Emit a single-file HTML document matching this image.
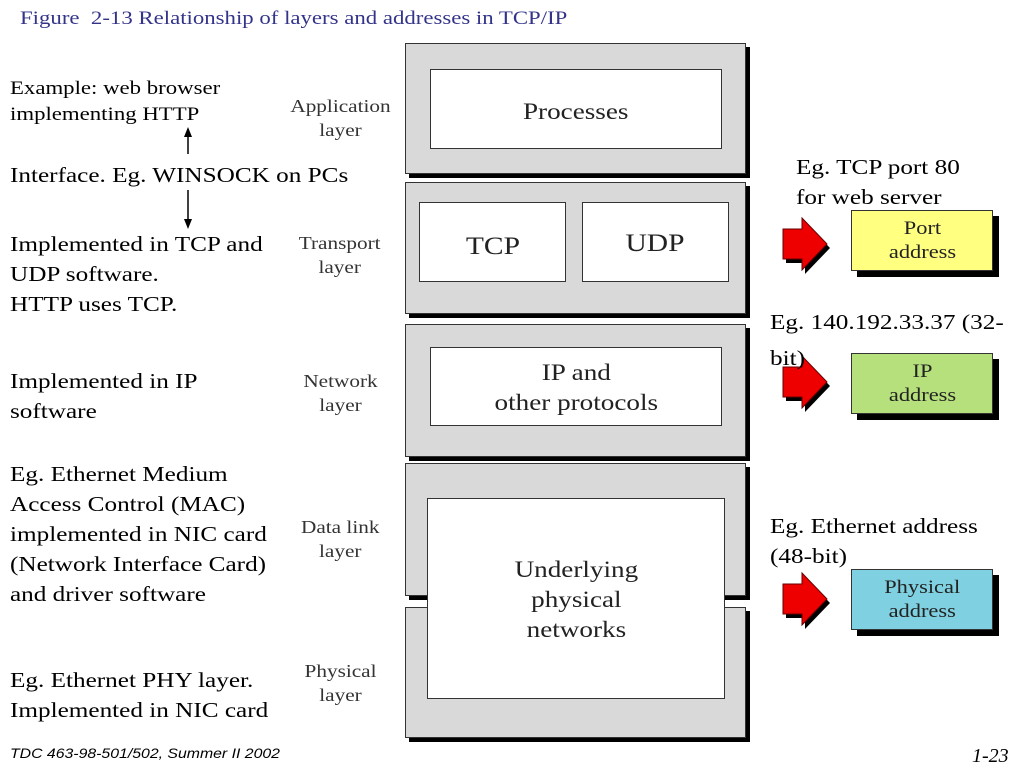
<!DOCTYPE html>
<html><head><style>
body{margin:0;width:1024px;height:768px;background:#fff;position:relative;overflow:hidden;font-family:"Liberation Serif",serif;}
div{position:absolute;box-sizing:border-box;}
.s{display:inline-block;transform:scaleX(1.2);transform-origin:left top;}
.c{display:inline-block;transform:scaleX(1.18);transform-origin:center top;}
.t{white-space:nowrap;color:#000;font-size:21px;line-height:30px;}
.lay{background:#d9d9d9;border:1.5px solid #333;box-shadow:4px 4px 0 #000;}
.in{background:#fff;border:1.5px solid #333;text-align:center;color:#222;font-size:23px;}
.ll{color:#333;font-size:18px;line-height:24px;text-align:center;white-space:nowrap;}
.ad{border:1.5px solid #333;box-shadow:6px 6px 0 #000;text-align:center;font-size:19px;line-height:24px;color:#222;padding-top:6px;}
</style></head><body>
<div class="t" style="left:20px;top:4px;font-size:19px;color:#33338a;"><span class="s">Figure&nbsp; 2-13 Relationship of layers and addresses in TCP/IP</span></div>

<div class="t" style="left:10px;top:76px;font-size:19px;line-height:26px;"><span class="s">Example: web browser<br>implementing HTTP</span></div>
<div class="t" style="left:10px;top:160px;"><span class="s">Interface. Eg. WINSOCK on PCs</span></div>
<div class="t" style="left:10px;top:229px;"><span class="s">Implemented in TCP and<br>UDP software.<br>HTTP uses TCP.</span></div>
<div class="t" style="left:10px;top:366px;"><span class="s">Implemented in IP<br>software</span></div>
<div class="t" style="left:10px;top:459px;"><span class="s">Eg. Ethernet Medium<br>Access Control (MAC)<br>implemented in NIC card<br>(Network Interface Card)<br>and driver software</span></div>
<div class="t" style="left:10px;top:665px;"><span class="s">Eg. Ethernet PHY layer.<br>Implemented in NIC card</span></div>
<div class="t" style="left:10px;top:738px;font-family:'Liberation Sans',sans-serif;font-style:italic;font-size:14px;"><span class="s" style="transform:scaleX(1.13)">TDC 463-98-501/502, Summer II 2002</span></div>
<div class="t" style="left:972px;top:741px;font-style:italic;font-size:20px;">1-23</div>

<svg style="position:absolute;left:0;top:0" width="1024" height="768">
<line x1="188" y1="130" x2="188" y2="154" stroke="#000" stroke-width="1.5"/>
<polygon points="188,127 184,137 192,137" fill="#000"/>
<line x1="188" y1="190" x2="188" y2="222" stroke="#000" stroke-width="1.5"/>
<polygon points="188,229 184,219 192,219" fill="#000"/>
<g>
<polygon points="783,229 802,229 802,218 827,244 802,270 802,259 783,259" fill="#000" transform="translate(3,4)"/>
<polygon points="783,229 802,229 802,218 827,244 802,270 802,259 783,259" fill="#e00" stroke="#600" stroke-width="1"/>
</g>
<g transform="translate(0,138)">
<polygon points="783,229 802,229 802,218 827,244 802,270 802,259 783,259" fill="#000" transform="translate(3,4)"/>
<polygon points="783,229 802,229 802,218 827,244 802,270 802,259 783,259" fill="#e00" stroke="#600" stroke-width="1"/>
</g>
<g transform="translate(0,355)">
<polygon points="783,229 802,229 802,218 827,244 802,270 802,259 783,259" fill="#000" transform="translate(3,4)"/>
<polygon points="783,229 802,229 802,218 827,244 802,270 802,259 783,259" fill="#e00" stroke="#600" stroke-width="1"/>
</g>
</svg>

<div class="ll" style="left:272px;top:94px;width:136px;"><span class="c">Application<br>layer</span></div>
<div class="ll" style="left:272px;top:231px;width:136px;"><span class="c">Transport<br>layer</span></div>
<div class="ll" style="left:272px;top:369px;width:136px;"><span class="c">Network<br>layer</span></div>
<div class="ll" style="left:272px;top:515px;width:136px;"><span class="c">Data link<br>layer</span></div>
<div class="ll" style="left:272px;top:659px;width:136px;"><span class="c">Physical<br>layer</span></div>

<div class="lay" style="left:405px;top:43px;width:341px;height:131px;"></div>
<div class="lay" style="left:405px;top:182px;width:341px;height:132px;"></div>
<div class="lay" style="left:405px;top:324px;width:341px;height:133px;"></div>
<div class="lay" style="left:405px;top:463px;width:341px;height:133px;"></div>
<div class="lay" style="left:405px;top:607px;width:341px;height:131px;"></div>

<div class="in" style="left:430px;top:69px;width:292px;height:80px;line-height:84px;"><span class="c">Processes</span></div>
<div class="in" style="left:419px;top:202px;width:147px;height:80px;line-height:88px;font-size:25px;"><span class="c">TCP</span></div>
<div class="in" style="left:582px;top:202px;width:147px;height:80px;line-height:82px;font-size:25px;"><span class="c">UDP</span></div>
<div class="in" style="left:430px;top:347px;width:292px;height:79px;line-height:30px;padding-top:10px;"><span class="c">IP and<br>other protocols</span></div>
<div class="in" style="left:427px;top:498px;width:298px;height:201px;line-height:30px;padding-top:56px;"><span class="c">Underlying<br>physical<br>networks</span></div>

<div class="t" style="left:796px;top:152px;"><span class="s">Eg. TCP port 80<br>for web server</span></div>
<div class="t" style="left:770px;top:307px;"><span class="s">Eg. 140.192.33.37 (32-</span></div>
<div class="t" style="left:770px;top:343px;"><span class="s">bit)</span></div>
<div class="t" style="left:770px;top:511px;"><span class="s">Eg. Ethernet address<br>(48-bit)</span></div>

<div class="ad" style="left:851px;top:210px;width:142px;height:61px;background:#ffff80;"><span class="c">Port<br>address</span></div>
<div class="ad" style="left:851px;top:353px;width:142px;height:61px;background:#b5e07c;"><span class="c">IP<br>address</span></div>
<div class="ad" style="left:851px;top:569px;width:142px;height:61px;background:#7fd0e0;"><span class="c">Physical<br>address</span></div>
</body></html>
